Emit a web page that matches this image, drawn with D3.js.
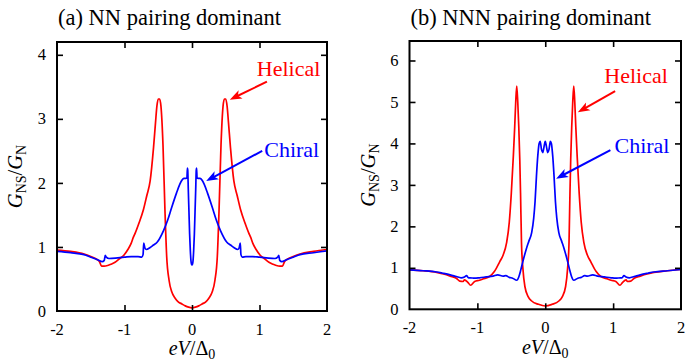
<!DOCTYPE html>
<html><head><meta charset="utf-8">
<script src="https://cdn.jsdelivr.net/npm/d3@7/dist/d3.min.js"></script>
<style>body{margin:0;background:#fff;}</style>
</head><body>
<svg id="c" width="686" height="362"></svg>
<script>
// ---------- data ----------
const xTicks = [-2, -1, 0, 1, 2];
const yTicksA = [0, 1, 2, 3, 4];
const yTicksB = [0, 1, 2, 3, 4, 5, 6];
const titleA = "(a) NN pairing dominant";
const titleB = "(b) NNN pairing dominant";

// (a) NN pairing dominant — helical
const helicalNN_x = [-2,-1.8,-1.6,-1.5,-1.4,-1.37,-1.34,-1.3,-1.25,-1.2,-1.14,-1.07,-1.01,-0.95,-0.9,-0.87,-0.84,-0.79,-0.72,-0.67,-0.62,-0.57,-0.54,-0.52,-0.5,-0.48,-0.46,-0.43,-0.4,-0.375,-0.34,-0.3,-0.25,-0.2,-0.15,-0.1,-0.05,0,
  0.05,0.1,0.15,0.2,0.25,0.3,0.34,0.375,0.4,0.43,0.46,0.48,0.5,0.52,0.54,0.57,0.62,0.67,0.72,0.79,0.84,0.87,0.9,0.95,1.01,1.07,1.14,1.2,1.25,1.3,1.34,1.37,1.4,1.5,1.6,1.8,2];
const helicalNN_y = [0.95,0.93,0.89,0.85,0.8,0.77,0.7,0.7,0.71,0.73,0.76,0.82,0.87,0.96,1.06,1.15,1.22,1.36,1.58,1.8,2.03,2.55,2.95,3.2,3.31,3.31,3.2,2.6,1.55,0.85,0.48,0.3,0.2,0.14,0.11,0.08,0.06,0.05,
  0.06,0.08,0.11,0.14,0.2,0.3,0.48,0.85,1.55,2.6,3.2,3.31,3.31,3.2,2.95,2.55,2.03,1.8,1.58,1.36,1.22,1.15,1.06,0.96,0.87,0.82,0.76,0.73,0.71,0.7,0.7,0.77,0.8,0.85,0.89,0.93,0.96];
// (a) — chiral
const chiralNN_x = [-2,-1.8,-1.6,-1.5,-1.4,-1.33,-1.3,-1.285,-1.27,-1.23,-1.1,-1.0,-0.9,-0.8,-0.745,-0.725,-0.715,-0.7,-0.68,-0.62,-0.57,-0.52,-0.42,-0.36,-0.3,-0.23,-0.18,-0.15,-0.12,-0.09,-0.075,-0.068,-0.063,-0.055,-0.045,-0.035,-0.025,-0.015,-0.007,0,
  0.007,0.015,0.025,0.035,0.045,0.055,0.063,0.068,0.075,0.09,0.12,0.15,0.18,0.23,0.3,0.36,0.42,0.52,0.57,0.62,0.68,0.7,0.715,0.725,0.745,0.8,0.9,1.0,1.1,1.23,1.27,1.285,1.3,1.33,1.4,1.5,1.6,1.8,2];
const chiralNN_y = [0.93,0.91,0.88,0.84,0.8,0.77,0.79,0.87,0.84,0.82,0.83,0.84,0.85,0.85,0.84,0.88,1.06,0.99,0.96,0.99,1.03,1.07,1.26,1.42,1.62,1.84,1.98,2.04,2.07,2.07,2.08,2.23,2.2,1.9,1.55,1.2,0.95,0.78,0.73,0.72,
  0.73,0.78,0.95,1.2,1.55,1.9,2.2,2.23,2.08,2.07,2.07,2.04,1.98,1.84,1.62,1.42,1.26,1.07,1.03,0.99,0.96,0.99,1.06,0.88,0.84,0.85,0.85,0.84,0.83,0.82,0.84,0.87,0.79,0.77,0.8,0.84,0.88,0.91,0.94];

// (b) NNN pairing dominant — helical
const helicalNNN_x = [-2,-1.8,-1.6,-1.5,-1.4,-1.31,-1.26,-1.21,-1.19,-1.14,-1.1,-1.04,-0.97,-0.92,-0.82,-0.75,-0.67,-0.62,-0.57,-0.53,-0.5,-0.47,-0.45,-0.435,-0.42,-0.405,-0.39,-0.375,-0.364,-0.35,-0.33,-0.3,-0.25,-0.2,-0.1,0,
  0.1,0.2,0.25,0.3,0.33,0.35,0.364,0.375,0.39,0.405,0.42,0.435,0.45,0.47,0.5,0.53,0.57,0.62,0.67,0.75,0.82,0.92,0.97,1.04,1.1,1.14,1.19,1.21,1.26,1.31,1.4,1.5,1.6,1.8,2];
const helicalNNN_y = [0.95,0.93,0.89,0.85,0.8,0.75,0.68,0.67,0.71,0.65,0.58,0.67,0.7,0.73,0.79,0.91,1.15,1.31,1.6,2.1,2.8,3.7,4.4,5.0,5.38,5.0,4.4,3.6,2.8,1.6,1.0,0.55,0.3,0.2,0.12,0.08,
  0.12,0.2,0.3,0.55,1.0,1.6,2.8,3.6,4.4,5.0,5.38,5.0,4.4,3.7,2.8,2.1,1.6,1.31,1.15,0.91,0.79,0.73,0.7,0.67,0.58,0.65,0.71,0.67,0.68,0.75,0.8,0.85,0.89,0.93,0.96];
// (b) — chiral
const chiralNNN_x = [-2,-1.8,-1.6,-1.51,-1.4,-1.31,-1.24,-1.19,-1.16,-1.13,-1.11,-1.04,-0.97,-0.87,-0.77,-0.7,-0.62,-0.58,-0.53,-0.48,-0.42,-0.39,-0.36,-0.33,-0.28,-0.24,-0.2,-0.17,-0.15,-0.13,-0.11,-0.09,-0.075,-0.055,-0.037,-0.02,0,
  0.02,0.037,0.055,0.075,0.09,0.11,0.13,0.15,0.17,0.2,0.24,0.28,0.33,0.36,0.39,0.42,0.48,0.53,0.58,0.62,0.7,0.77,0.87,0.97,1.04,1.11,1.13,1.16,1.19,1.24,1.31,1.4,1.51,1.6,1.8,2];
const chiralNNN_y = [0.95,0.93,0.9,0.87,0.83,0.79,0.76,0.78,0.81,0.76,0.76,0.75,0.76,0.78,0.8,0.83,0.8,0.81,0.77,0.75,0.7,0.78,0.95,1.15,1.45,1.65,1.85,2.2,2.6,3.2,3.7,4.0,4.05,3.85,3.78,3.9,4.05,
  3.9,3.78,3.85,4.05,4.0,3.7,3.2,2.6,2.2,1.85,1.65,1.45,1.15,0.95,0.78,0.7,0.75,0.77,0.81,0.8,0.83,0.8,0.78,0.76,0.75,0.76,0.76,0.81,0.78,0.76,0.79,0.83,0.87,0.9,0.93,0.96];

// annotations (data coordinates)
const annotA = [
  {name:"Helical", color:"#ff0000", tx:0.96, ty:3.67, ax:1.11, ay:3.58, bx:0.56, by:3.30},
  {name:"Chiral",  color:"#0000ff", tx:1.07, ty:2.41, ax:1.04, ay:2.5,  bx:0.21, by:2.03}
];
const annotB = [
  {name:"Helical", color:"#ff0000", tx:0.87, ty:5.45, ax:1.03, ay:5.26, bx:0.48, by:4.75},
  {name:"Chiral",  color:"#0000ff", tx:1.02, ty:3.77, ax:0.96, ay:3.84, bx:0.16, by:3.15}
];

// ---------- drawing ----------
const FONT = "Liberation Serif, Times New Roman, DejaVu Serif, Noto Serif, Noto Serif CJK SC, FreeSerif, Nimbus Roman, Tinos, serif";
const svg = d3.select("#c");
const RED = "#ff0000", BLUE = "#0000ff";
const txt = (sel) => sel.append("text").attr("font-family", FONT).attr("fill", "#000");

function panel(cfg){
  const x = d3.scaleLinear().domain([-2, 2]).range([cfg.l, cfg.r]);
  const y = d3.scaleLinear().domain([0, cfg.yMax]).range([cfg.b, cfg.t]);
  const g = svg.append("g");
  const cid = "clip" + cfg.id;
  svg.append("clipPath").attr("id", cid).append("rect")
    .attr("x", cfg.l).attr("y", cfg.t).attr("width", cfg.r - cfg.l).attr("height", cfg.b - cfg.t);

  const line = d3.line().x(d => x(d[0])).y(d => y(d[1])).curve(d3.curveMonotoneX);
  cfg.series.forEach(s => {
    const pts = s.xs.map((v, i) => [v, s.ys[i]]);
    g.append("path").attr("d", line(pts)).attr("fill", "none")
      .attr("stroke", s.color).attr("stroke-width", 1.7).attr("clip-path", `url(#${cid})`);
  });

  const tl = 6;
  const ax = (gen, tr) => {
    const a = g.append("g").attr("transform", tr).call(gen);
    a.select(".domain").remove();
    a.selectAll("text").remove();
    a.selectAll("line").attr("stroke", "#000").attr("stroke-width", 1.6);
    return a;
  };
  const inner = xTicks.filter(v => v > -2 && v < 2);
  const innerY = cfg.yTicks.filter(v => v > 0);
  ax(d3.axisBottom(x).tickValues(inner).tickSize(-tl), `translate(0,${cfg.b})`);
  ax(d3.axisTop(x).tickValues(inner).tickSize(-tl), `translate(0,${cfg.t})`);
  ax(d3.axisLeft(y).tickValues(innerY).tickSize(-tl), `translate(${cfg.l},0)`);
  ax(d3.axisRight(y).tickValues(innerY).tickSize(-tl), `translate(${cfg.r},0)`);

  xTicks.forEach(d => {
    txt(g).attr("x", x(d)).attr("y", cfg.xlY).attr("text-anchor", "middle")
      .attr("font-size", 16.5).text(d < 0 ? "-" + Math.abs(d) : String(d));
  });
  cfg.yTicks.forEach(d => {
    txt(g).attr("x", cfg.l - 11).attr("y", y(d)).attr("dy", "0.34em").attr("text-anchor", "end")
      .attr("font-size", 16.5).text(String(d));
  });

  g.append("rect").attr("x", cfg.l).attr("y", cfg.t).attr("width", cfg.r - cfg.l).attr("height", cfg.b - cfg.t)
    .attr("fill", "none").attr("stroke", "#000").attr("stroke-width", 2);

  txt(g).attr("x", cfg.l + 1).attr("y", 25).attr("font-size", 22.5).text(cfg.title);

  const xl = txt(g).attr("x", (cfg.l + cfg.r) / 2).attr("y", cfg.xLabY)
    .attr("text-anchor", "middle").attr("font-size", 20);
  xl.append("tspan").attr("font-style", "italic").text("eV");
  xl.append("tspan").text("/Δ");
  xl.append("tspan").attr("font-size", 14).attr("dy", 4).text("0");

  const yl = txt(g).attr("transform", `translate(${cfg.yLabX},${(cfg.t + cfg.b) / 2}) rotate(-90)`)
    .attr("text-anchor", "middle").attr("font-size", 20.5);
  yl.append("tspan").attr("font-style", "italic").text("G");
  yl.append("tspan").attr("font-size", 14).attr("dy", 4).text("NS");
  yl.append("tspan").attr("dy", -4).text("/");
  yl.append("tspan").attr("font-style", "italic").text("G");
  yl.append("tspan").attr("font-size", 14).attr("dy", 4).text("N");

  cfg.annot.forEach(a => {
    txt(g).attr("x", x(a.tx)).attr("y", y(a.ty)).attr("font-size", 22)
      .attr("fill", a.color).text(a.name);
    const x0 = x(a.ax), y0 = y(a.ay), x1 = x(a.bx), y1 = y(a.by);
    const dx = x1 - x0, dy = y1 - y0, len = Math.hypot(dx, dy);
    const ux = dx / len, uy = dy / len, nx = -uy, ny = ux;
    const L = 12, W = 4.5;
    g.append("line").attr("x1", x0).attr("y1", y0).attr("x2", x1 - ux * L * 0.7).attr("y2", y1 - uy * L * 0.7)
      .attr("stroke", a.color).attr("stroke-width", 2);
    const p = [[x1, y1], [x1 - ux * L + nx * W, y1 - uy * L + ny * W], [x1 - ux * L * 0.75, y1 - uy * L * 0.75],
               [x1 - ux * L - nx * W, y1 - uy * L - ny * W]];
    g.append("path").attr("d", "M" + p.map(q => q.join(",")).join("L") + "Z").attr("fill", a.color);
  });
}

panel({id:"A", l:57, r:327, t:42, b:311, yMax:4.2, yTicks:yTicksA, title:titleA, xlY:334.5, xLabY:355, yLabX:22,
  annot:annotA,
  series:[{xs:helicalNN_x, ys:helicalNN_y, color:RED}, {xs:chiralNN_x, ys:chiralNN_y, color:BLUE}]});
panel({id:"B", l:409.5, r:681, t:41, b:309.3, yMax:6.47, yTicks:yTicksB, title:titleB, xlY:333, xLabY:354, yLabX:375,
  annot:annotB,
  series:[{xs:helicalNNN_x, ys:helicalNNN_y, color:RED}, {xs:chiralNNN_x, ys:chiralNNN_y, color:BLUE}]});
</script>
</body></html>
